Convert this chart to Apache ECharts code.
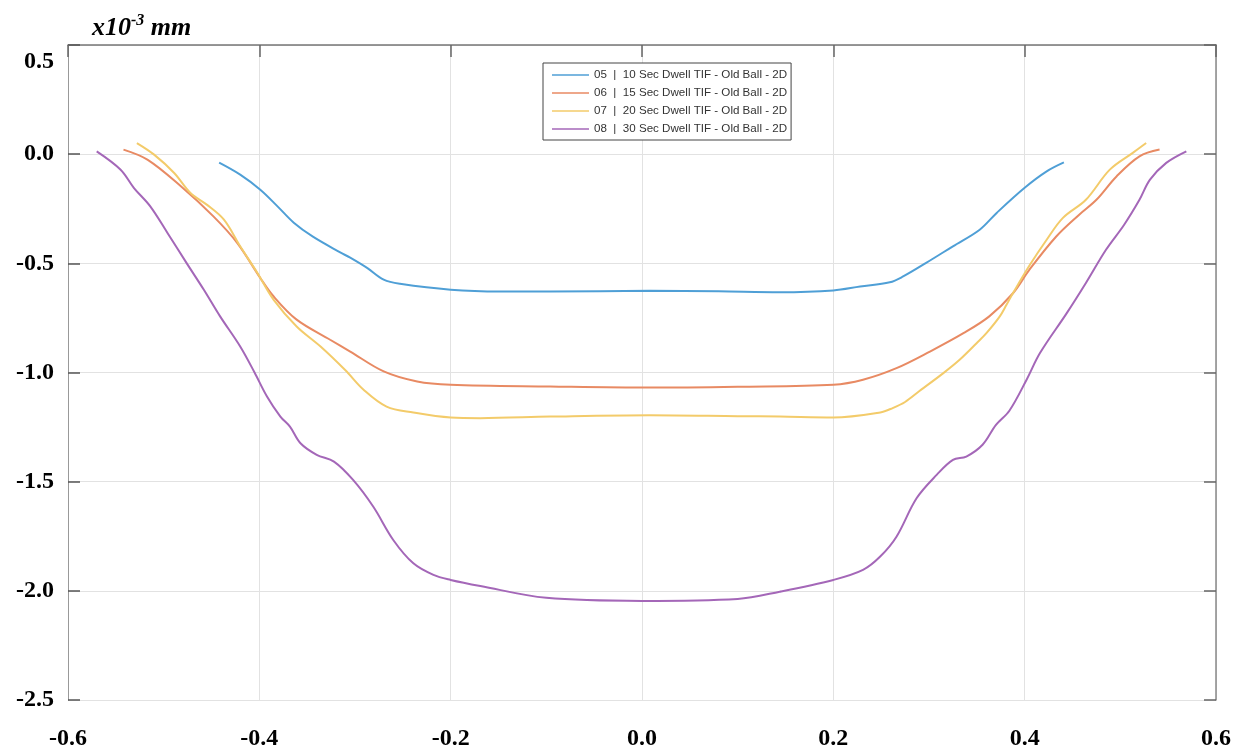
<!DOCTYPE html>
<html>
	<head>
		<meta charset="UTF-8">
		<title></title>
		<script src="https://cdn.jsdelivr.net/npm/echarts@6/dist/echarts.min.js"></script>
	</head>
	<body style="margin:0;background:#fff;">
		<div id="profile_chart" style="width:1241px;height:754px;"></div>
		<script>
			// 图例名称
			var seriesNames = [
				'05  |  10 Sec Dwell TIF - Old Ball - 2D',
				'06  |  15 Sec Dwell TIF - Old Ball - 2D',
				'07  |  20 Sec Dwell TIF - Old Ball - 2D',
				'08  |  30 Sec Dwell TIF - Old Ball - 2D'
			];
			var seriesColors = ['#4f9fd6', '#e88a63', '#f3cb6a', '#a467b8'];

			// 刻度
			var xTicks = [-0.6, -0.4, -0.2, 0.0, 0.2, 0.4, 0.6];
			var yTicks = [-2.5, -2.0, -1.5, -1.0, -0.5, 0.0, 0.5];

			// 各曲线 [x, y]
			var dwell10 = [[-0.442,-0.039],[-0.420,-0.094],[-0.399,-0.163],[-0.381,-0.239],[-0.364,-0.314],[-0.344,-0.378],
				[-0.315,-0.451],[-0.305,-0.474],[-0.287,-0.522],[-0.270,-0.575],[-0.253,-0.594],[-0.200,-0.621],[-0.148,-0.629],
				[-0.096,-0.629],[0.008,-0.626],[0.080,-0.628],[0.144,-0.632],[0.200,-0.624],[0.228,-0.606],[0.259,-0.587],
				[0.273,-0.560],[0.297,-0.498],[0.325,-0.422],[0.353,-0.346],[0.371,-0.268],[0.400,-0.154],[0.423,-0.079],[0.441,-0.038]];
			var dwell15 = [[-0.542,0.021],[-0.517,-0.025],[-0.482,-0.147],[-0.448,-0.285],[-0.423,-0.407],[-0.399,-0.567],
				[-0.385,-0.652],[-0.361,-0.758],[-0.326,-0.850],[-0.305,-0.904],[-0.270,-0.995],[-0.235,-1.041],[-0.200,-1.056],
				[-0.096,-1.064],[0.008,-1.069],[0.100,-1.065],[0.200,-1.056],[0.231,-1.033],[0.266,-0.980],[0.301,-0.904],
				[0.336,-0.820],[0.363,-0.743],[0.388,-0.636],[0.405,-0.529],[0.433,-0.377],[0.457,-0.277],[0.475,-0.209],
				[0.496,-0.102],[0.520,-0.010],[0.541,0.021]];
			var dwell20 = [[-0.528,0.051],[-0.510,-0.002],[-0.489,-0.086],[-0.472,-0.178],[-0.455,-0.231],[-0.437,-0.300],
				[-0.420,-0.422],[-0.402,-0.544],[-0.385,-0.667],[-0.361,-0.789],[-0.336,-0.881],[-0.310,-0.990],[-0.291,-1.079],
				[-0.267,-1.156],[-0.239,-1.183],[-0.200,-1.206],[-0.169,-1.209],[-0.096,-1.202],[0.008,-1.196],[0.100,-1.200],
				[0.144,-1.202],[0.200,-1.206],[0.249,-1.183],[0.262,-1.163],[0.275,-1.135],[0.290,-1.085],[0.315,-1.003],
				[0.332,-0.942],[0.350,-0.865],[0.360,-0.820],[0.374,-0.743],[0.381,-0.690],[0.388,-0.635],[0.405,-0.510],
				[0.423,-0.392],[0.440,-0.292],[0.464,-0.209],[0.489,-0.071],[0.513,0.006],[0.527,0.051]];
			var dwell30 = [[-0.570,0.013],[-0.545,-0.071],[-0.531,-0.155],[-0.514,-0.239],[-0.496,-0.361],[-0.476,-0.499],
				[-0.458,-0.621],[-0.441,-0.743],[-0.420,-0.881],[-0.405,-1.000],[-0.392,-1.110],[-0.378,-1.202],[-0.368,-1.248],
				[-0.357,-1.324],[-0.340,-1.377],[-0.322,-1.408],[-0.302,-1.492],[-0.281,-1.614],[-0.260,-1.767],[-0.239,-1.874],
				[-0.218,-1.927],[-0.200,-1.950],[-0.169,-1.978],[-0.100,-2.032],[0.000,-2.046],[0.100,-2.037],[0.144,-2.004],
				[0.200,-1.950],[0.231,-1.904],[0.249,-1.843],[0.266,-1.752],[0.287,-1.576],[0.308,-1.469],[0.325,-1.400],
				[0.339,-1.385],[0.356,-1.331],[0.370,-1.240],[0.384,-1.175],[0.402,-1.033],[0.416,-0.911],[0.444,-0.728],
				[0.464,-0.590],[0.485,-0.438],[0.504,-0.323],[0.520,-0.209],[0.531,-0.117],[0.548,-0.040],[0.569,0.013]];
			var allData = [dwell10, dwell15, dwell20, dwell30];

			var serifBold = {fontFamily: 'Liberation Serif', fontWeight: 'bold', fontSize: 24, color: '#000'};

			var series = [];
			for (var i = 0; i < allData.length; i++) {
				series.push({
					name: seriesNames[i],
					type: 'line',
					data: allData[i],
					symbol: 'none',
					smooth: 0.35,
					lineStyle: {width: 2, color: seriesColors[i]},
					itemStyle: {color: seriesColors[i]},
					z: 3
				});
			}

			var option = {
				animation: false,
				grid: {left: 68, right: 25, top: 45, bottom: 54},
				legend: {
					orient: 'vertical',
					left: 543,
					top: 63,
					padding: [6, 4, 5, 9],
					icon: 'rect',
					itemGap: 6,
					itemWidth: 37,
					itemHeight: 1.5,
					borderColor: '#444',
					borderWidth: 1,
					backgroundColor: '#fff',
					textStyle: {fontFamily: 'Liberation Sans', fontSize: 11.6, color: '#333'},
					data: seriesNames
				},
				graphic: [{
					type: 'text',
					left: 92,
					top: 13,
					style: {
						text: '{b|x10}{s|-3}{b| mm}',
						rich: {
							b: {fontFamily: 'Liberation Serif', fontStyle: 'italic', fontWeight: 'bold', fontSize: 26, lineHeight: 28, verticalAlign: 'bottom', fill: '#000'},
							s: {fontFamily: 'Liberation Serif', fontStyle: 'italic', fontWeight: 'bold', fontSize: 16, lineHeight: 28, verticalAlign: 'top', fill: '#000'}
						}
					}
				}],
				xAxis: [{
					type: 'value',
					min: xTicks[0], max: xTicks[xTicks.length - 1], interval: 0.2,
					axisLine: {show: false},
					axisTick: {show: false},
					axisLabel: Object.assign({margin: 27, formatter: function(v){ return v.toFixed(1); }}, serifBold),
					splitLine: {show: true, lineStyle: {color: '#e2e2e2', width: 1}}
				}, {
					type: 'value', position: 'top',
					min: xTicks[0], max: xTicks[xTicks.length - 1], interval: 0.2,
					axisLine: {show: true, onZero: false, lineStyle: {color: '#777', width: 1.5}},
					axisTick: {show: true, inside: true, length: 12, lineStyle: {color: '#666', width: 1.5}},
					axisLabel: {show: false},
					splitLine: {show: false}
				}],
				yAxis: [{
					type: 'value',
					min: yTicks[0], max: yTicks[yTicks.length - 1], interval: 0.5,
					axisLine: {show: true, onZero: false, lineStyle: {color: '#999', width: 1}},
					axisTick: {show: true, inside: true, length: 12, lineStyle: {color: '#555', width: 1.5}},
					axisLabel: Object.assign({
						margin: 14,
						formatter: function(v){
							// 顶部刻度标签下移
							return v === yTicks[yTicks.length - 1] ? '{t|' + v.toFixed(1) + '}' : v.toFixed(1);
						},
						rich: {t: {fontFamily: 'Liberation Serif', fontWeight: 'bold', fontSize: 24, color: '#000', padding: [34, 0, 0, 0]}}
					}, serifBold),
					splitLine: {show: true, lineStyle: {color: '#e2e2e2', width: 1}}
				}, {
					type: 'value', position: 'right',
					min: yTicks[0], max: yTicks[yTicks.length - 1], interval: 0.5,
					axisLine: {show: true, onZero: false, lineStyle: {color: '#888', width: 1.5}},
					axisTick: {show: true, inside: true, length: 12, lineStyle: {color: '#666', width: 1.5}},
					axisLabel: {show: false},
					splitLine: {show: false}
				}],
				series: series
			};

			var myChart = echarts.init(document.getElementById('profile_chart'));
			myChart.setOption(option);
		</script>
	</body>
</html>
